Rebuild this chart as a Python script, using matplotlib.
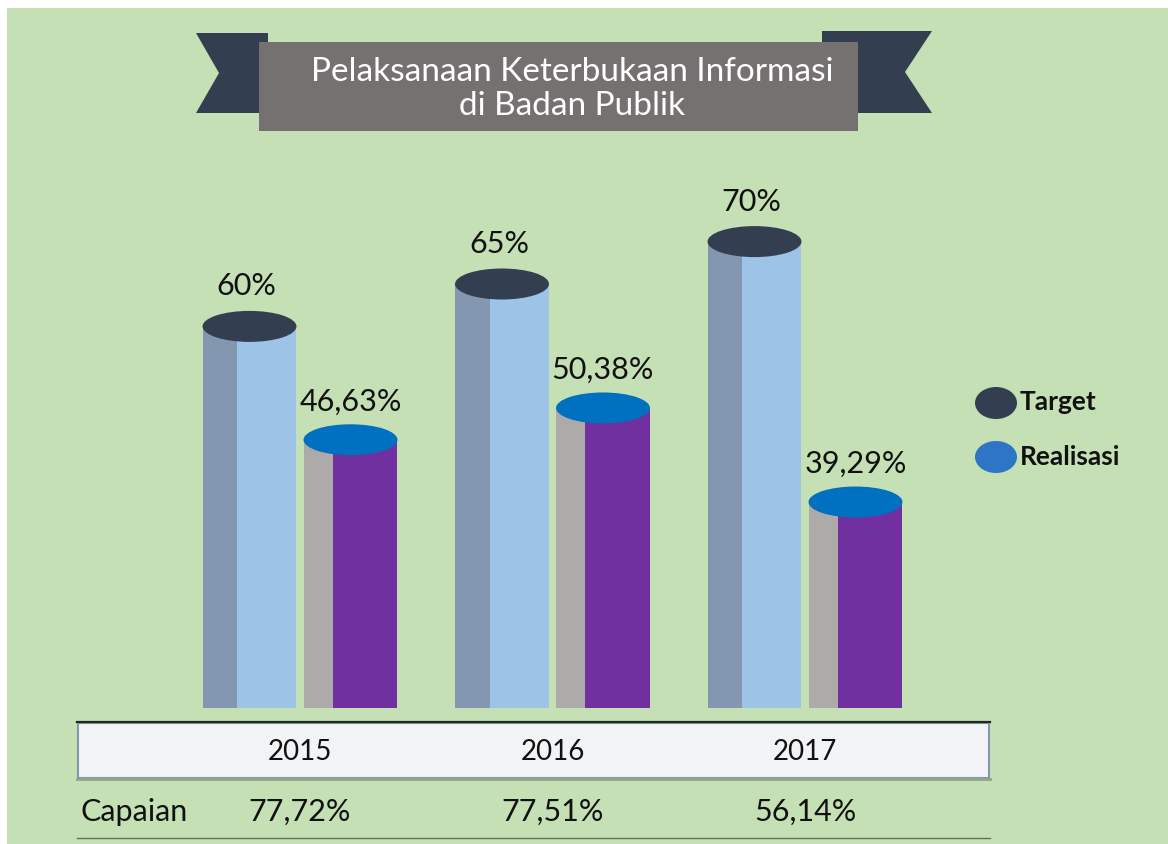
import matplotlib.pyplot as plt
from matplotlib.patches import Rectangle, Ellipse, Polygon

# ---------- DATA ----------
years = ["2015", "2016", "2017"]
target = [60, 65, 70]
realisasi = [46.63, 50.38, 39.29]
target_labels = ["60%", "65%", "70%"]
realisasi_labels = ["46,63%", "50,38%", "39,29%"]
capaian_labels = ["77,72%", "77,51%", "56,14%"]

# ---------- STYLE ----------
BG = "#C5E0B4"
T_DARK, T_LIGHT, T_TOP = "#8497B0", "#9DC3E6", "#333F50"
R_GRAY, R_PURPLE, R_TOP = "#AEAAAA", "#7030A0", "#0070C0"
FONT = ["Lato", "DejaVu Sans"]
plt.rcParams["font.family"] = FONT

W, H = 1168, 844
fig = plt.figure(figsize=(W / 100, H / 100), dpi=100)
fig.patch.set_facecolor("white")

# full-figure pixel axes for decoration
deco = fig.add_axes([0, 0, 1, 1])
deco.set_xlim(0, W)
deco.set_ylim(H, 0)
deco.axis("off")
deco.add_patch(Rectangle((7, 8), W, H, facecolor=BG, edgecolor="none"))

# ribbon banner
deco.add_patch(Polygon([(196, 33), (268, 33), (268, 113), (196, 113), (219, 73)],
                       facecolor=T_TOP, edgecolor="none"))
deco.add_patch(Polygon([(822, 31), (932, 31), (905, 72), (932, 113), (822, 113)],
                       facecolor=T_TOP, edgecolor="none"))
deco.add_patch(Rectangle((259, 42), 599, 89, facecolor="#767171", edgecolor="none"))
deco.text(572, 89, "Pelaksanaan Keterbukaan Informasi\ndi Badan Publik", color="white",
          fontsize=24, ha="center", va="center", linespacing=1.15)

# year table
deco.add_patch(Rectangle((78, 723), 911, 55, facecolor="#F2F3F5", edgecolor="#8497B0", lw=1.5))
deco.plot([77, 990], [722, 722], color="#1F2A1F", lw=1.6)
deco.plot([77, 990], [779, 779], color="#8FA48A", lw=2)
deco.plot([77, 990], [838, 838], color="#5F6F5C", lw=1)
deco.text(80, 812, "Capaian", fontsize=22, ha="left", va="center", color="#111111")

# legend
deco.add_patch(Ellipse((996, 403), 42, 32, facecolor=T_TOP, edgecolor="none"))
deco.add_patch(Ellipse((996, 457), 42, 32, facecolor="#2E75C6", edgecolor="none"))
deco.text(1020, 402, "Target", fontsize=19, fontweight="bold", va="center", color="#111111")
deco.text(1020, 457, "Realisasi", fontsize=19, fontweight="bold", va="center", color="#111111")

# ---------- CHART ----------
ax_l, ax_r, ax_t, ax_b = 60, 960, 130, 708
ax = fig.add_axes([ax_l / W, (H - ax_b) / H, (ax_r - ax_l) / W, (ax_b - ax_t) / H])
ax.patch.set_alpha(0)
ax.axis("off")
px_x = 252.5           # pixels per category step
px_y = 8.48            # pixels per percent
y0 = 15
ax.set_xlim((ax_l - 300) / px_x, (ax_r - 300) / px_x)
ax.set_ylim(y0, y0 + (ax_b - ax_t) / px_y)

bw = 0.372
off = 0.2
eh = 31 / px_y


def cylinder(xc, val, split, c_side, c_front, c_top):
    left = xc - bw / 2
    ax.add_patch(Rectangle((left, y0), bw * split, val - y0, facecolor=c_side, edgecolor="none"))
    ax.add_patch(Rectangle((left + bw * split, y0), bw * (1 - split), val - y0,
                           facecolor=c_front, edgecolor="none"))
    ax.add_patch(Ellipse((xc, val), bw, eh, facecolor=c_top, edgecolor="none"))


for i in range(len(years)):
    xt, xr = i - off, i + off
    cylinder(xt, target[i], 0.37, T_DARK, T_LIGHT, T_TOP)
    cylinder(xr, realisasi[i], 0.31, R_GRAY, R_PURPLE, R_TOP)
    ax.annotate(target_labels[i], (xt, target[i]), xytext=(-3, 40), textcoords="offset pixels",
                ha="center", va="center", fontsize=22, color="#111111")
    ax.annotate(realisasi_labels[i], (xr, realisasi[i]), xytext=(0, 38), textcoords="offset pixels",
                ha="center", va="center", fontsize=22, color="#111111")
    # table texts under each group
    px = 300 + i * px_x
    deco.text(px, 752, years[i], fontsize=20, ha="center", va="center", color="#111111")
    deco.text(px, 812, capaian_labels[i], fontsize=22, ha="center", va="center", color="#111111")

fig.savefig("out.png", dpi=100, facecolor=fig.get_facecolor())
